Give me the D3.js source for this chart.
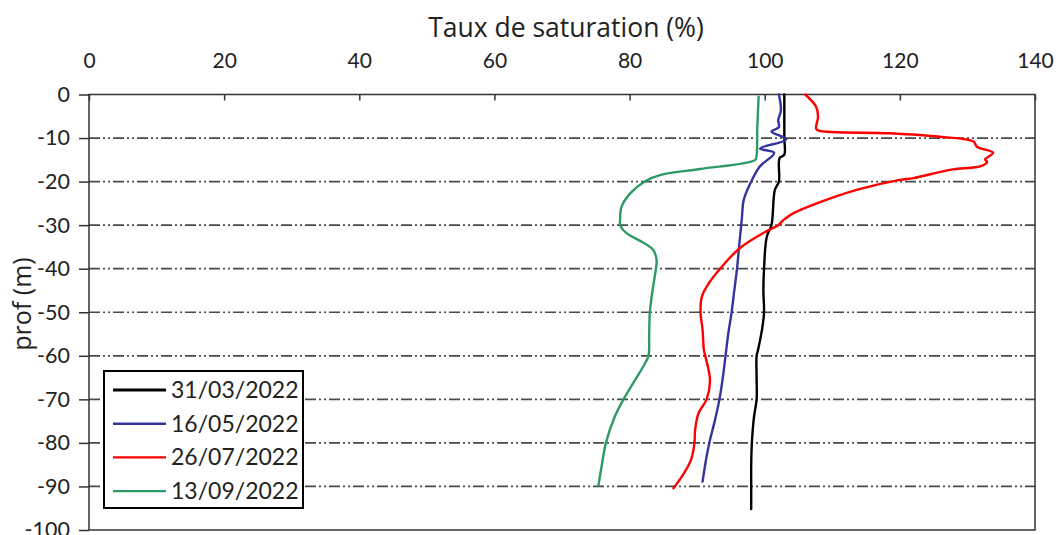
<!DOCTYPE html>
<html>
<head>
<meta charset="utf-8">
<script src="https://cdn.jsdelivr.net/npm/d3@7"></script>
<style>
  html, body { margin: 0; padding: 0; background: #fff; }
  svg { display: block; font-family: Lato, "Open Sans", sans-serif; font-variant-ligatures: none; }
</style>
</head>
<body>
<svg id="chart" width="1058" height="535"></svg>
<script>
// Profils verticaux du taux de saturation (%) en fonction de la profondeur (m)
const dates = ["31/03/2022", "16/05/2022", "26/07/2022", "13/09/2022"];
const colors = ["#000000", "#34349c", "#ff0000", "#2e9a66"];

const prof_31_03 = [0, -5, -10, -13.8, -14.6, -20, -21.9, -30, -32.7, -40, -45, -50, -54, -58.7, -60, -65, -70, -74.2, -80, -85, -90, -95.2];
const taux_31_03 = [102.9, 102.9, 102.9, 102.9, 102.2, 102.1, 101.5, 101.0, 100.3, 99.9, 99.8, 99.9, 99.6, 99.0, 98.8, 98.8, 98.8, 98.4, 98.1, 98.0, 98.0, 98.0];

const prof_16_05 = [0, -3.6, -5.9, -7.5, -8.5, -10.3, -12.4, -13.4, -16.5, -20, -24.2, -28.8, -35, -40, -45, -50, -55, -60, -65, -70, -75, -80, -84, -88.9];
const taux_16_05 = [102.1, 102.4, 102.0, 102.1, 101.0, 103.2, 99.3, 101.4, 99.3, 98.0, 96.9, 96.6, 96.2, 95.9, 95.5, 95.1, 94.6, 94.2, 93.8, 93.3, 92.6, 91.8, 91.3, 90.8];

const prof_26_07 = [0, -2.8, -5.1, -7.8, -8.3, -8.9, -9.7, -10.8, -12.0, -13.4, -14.9, -15.4, -16.4, -17.3, -19.2, -19.6, -21.9, -25.0, -27.3, -28.8, -30, -31.2, -35.3, -40, -43.4, -46.4, -50, -54, -58.7, -60, -65.6, -70, -73.2, -77, -80, -83.9, -87.8, -90.4];
const taux_26_07 = [106.0, 107.6, 107.9, 107.6, 108.0, 118.5, 125.9, 130.9, 131.4, 133.8, 132.6, 132.9, 132.1, 127.4, 122.0, 120.0, 113.6, 107.7, 104.2, 102.8, 102.0, 100.5, 96.3, 93.4, 91.7, 90.7, 90.5, 90.8, 91.0, 91.2, 91.9, 91.4, 90.2, 89.7, 89.6, 89.1, 87.7, 86.5];

const prof_13_09 = [-0.5, -7.8, -14.0, -15.0, -17.1, -18.5, -19.9, -22.7, -25.8, -28.8, -30, -31.9, -33.8, -35.7, -38, -40, -45, -50, -55, -60, -61.7, -65.6, -70, -74, -80, -85, -89.7];
const taux_13_09 = [99.1, 98.9, 98.8, 98.6, 90.4, 84.5, 82.3, 80.1, 78.8, 78.6, 78.6, 79.6, 81.8, 83.5, 84.0, 83.9, 83.4, 83.0, 82.9, 82.8, 82.3, 80.8, 79.1, 77.8, 76.5, 75.9, 75.4];

const xTicks = [0, 20, 40, 60, 80, 100, 120, 140];
const yTicks = [0, -10, -20, -30, -40, -50, -60, -70, -80, -90, -100];

const series = [
  { label: dates[0], color: colors[0], prof: prof_31_03, taux: taux_31_03 },
  { label: dates[1], color: colors[1], prof: prof_16_05, taux: taux_16_05 },
  { label: dates[2], color: colors[2], prof: prof_26_07, taux: taux_26_07 },
  { label: dates[3], color: colors[3], prof: prof_13_09, taux: taux_13_09 }
];

const svg = d3.select("#chart");
const plot = { left: 89, right: 1035, top: 94.5, bottom: 530 };

const x = d3.scaleLinear().domain([0, 140]).range([plot.left, plot.right]);
const y = d3.scaleLinear().domain([0, -100]).range([plot.top, plot.bottom]);

// Horizontal grid lines (long dash, dot, dot)
svg.append("g")
  .selectAll("line")
  .data(yTicks.filter(t => t !== 0 && t !== -100))
  .join("line")
  .attr("x1", plot.left).attr("x2", plot.right)
  .attr("y1", d => y(d)).attr("y2", d => y(d))
  .attr("stroke", "#4a4a4a")
  .attr("stroke-width", 1.7)
  .attr("stroke-dasharray", "11,3,2,3,2,3");

// Plot frame
svg.append("rect")
  .attr("x", plot.left).attr("y", plot.top)
  .attr("width", plot.right - plot.left).attr("height", plot.bottom - plot.top)
  .attr("fill", "none").attr("stroke", "#333").attr("stroke-width", 1.5);

// Top axis, ticks pointing into the plot
const xAxis = svg.append("g")
  .attr("transform", `translate(0,${plot.top})`)
  .call(d3.axisTop(x).tickValues(xTicks).tickSize(-6).tickPadding(27).tickSizeOuter(0));
xAxis.select(".domain").remove();
xAxis.selectAll(".tick line").attr("stroke", "#333").attr("stroke-width", 1.5);
xAxis.selectAll(".tick text")
  .attr("font-size", 21).attr("fill", "#222")
  .attr("font-family", "Lato, 'Open Sans', sans-serif");

// Left axis
const yAxis = svg.append("g")
  .attr("transform", `translate(${plot.left},0)`)
  .call(d3.axisLeft(y).tickValues(yTicks).tickFormat(d => String(d))
    .tickSize(10).tickPadding(9).tickSizeOuter(0));
yAxis.select(".domain").remove();
yAxis.selectAll(".tick line").attr("stroke", "#333").attr("stroke-width", 1.5);
yAxis.selectAll(".tick text")
  .attr("font-size", 21.5).attr("fill", "#222")
  .attr("font-family", "Lato, 'Open Sans', sans-serif");

// Axis titles
svg.append("text")
  .attr("x", 566).attr("y", 37)
  .attr("text-anchor", "middle")
  .attr("font-family", "'Open Sans', sans-serif")
  .attr("font-size", 26.5).attr("fill", "#222")
  .text("Taux de saturation (%)");

svg.append("text")
  .attr("transform", "translate(31,304) rotate(-90)")
  .attr("text-anchor", "middle")
  .attr("font-family", "'Open Sans', sans-serif")
  .attr("font-size", 25).attr("fill", "#222")
  .text("prof (m)");

// Profiles
const line = d3.line()
  .x(d => x(d[0]))
  .y(d => y(d[1]))
  .curve(d3.curveCatmullRom.alpha(0.5));

svg.append("g")
  .selectAll("path")
  .data(series)
  .join("path")
  .attr("d", s => line(s.taux.map((v, i) => [v, s.prof[i]])))
  .attr("fill", "none")
  .attr("stroke", s => s.color)
  .attr("stroke-width", 2.4)
  .attr("stroke-linejoin", "round")
  .attr("stroke-linecap", "round");

// Legend
const legend = svg.append("g");
legend.append("rect")
  .attr("x", 104).attr("y", 371)
  .attr("width", 199).attr("height", 137)
  .attr("fill", "#fff").attr("stroke", "#000").attr("stroke-width", 2);

const rows = legend.selectAll("g.row")
  .data(series)
  .join("g")
  .attr("class", "row")
  .attr("transform", (d, i) => `translate(0,${390 + i * 33.7})`);
rows.append("line")
  .attr("x1", 113).attr("x2", 166)
  .attr("stroke", d => d.color)
  .attr("stroke-width", (d, i) => i === 0 ? 3 : 2.4);
rows.append("text")
  .attr("x", 171).attr("dy", "0.35em")
  .attr("font-size", 23).attr("fill", "#222")
  .text(d => d.label);
</script>
</body>
</html>
